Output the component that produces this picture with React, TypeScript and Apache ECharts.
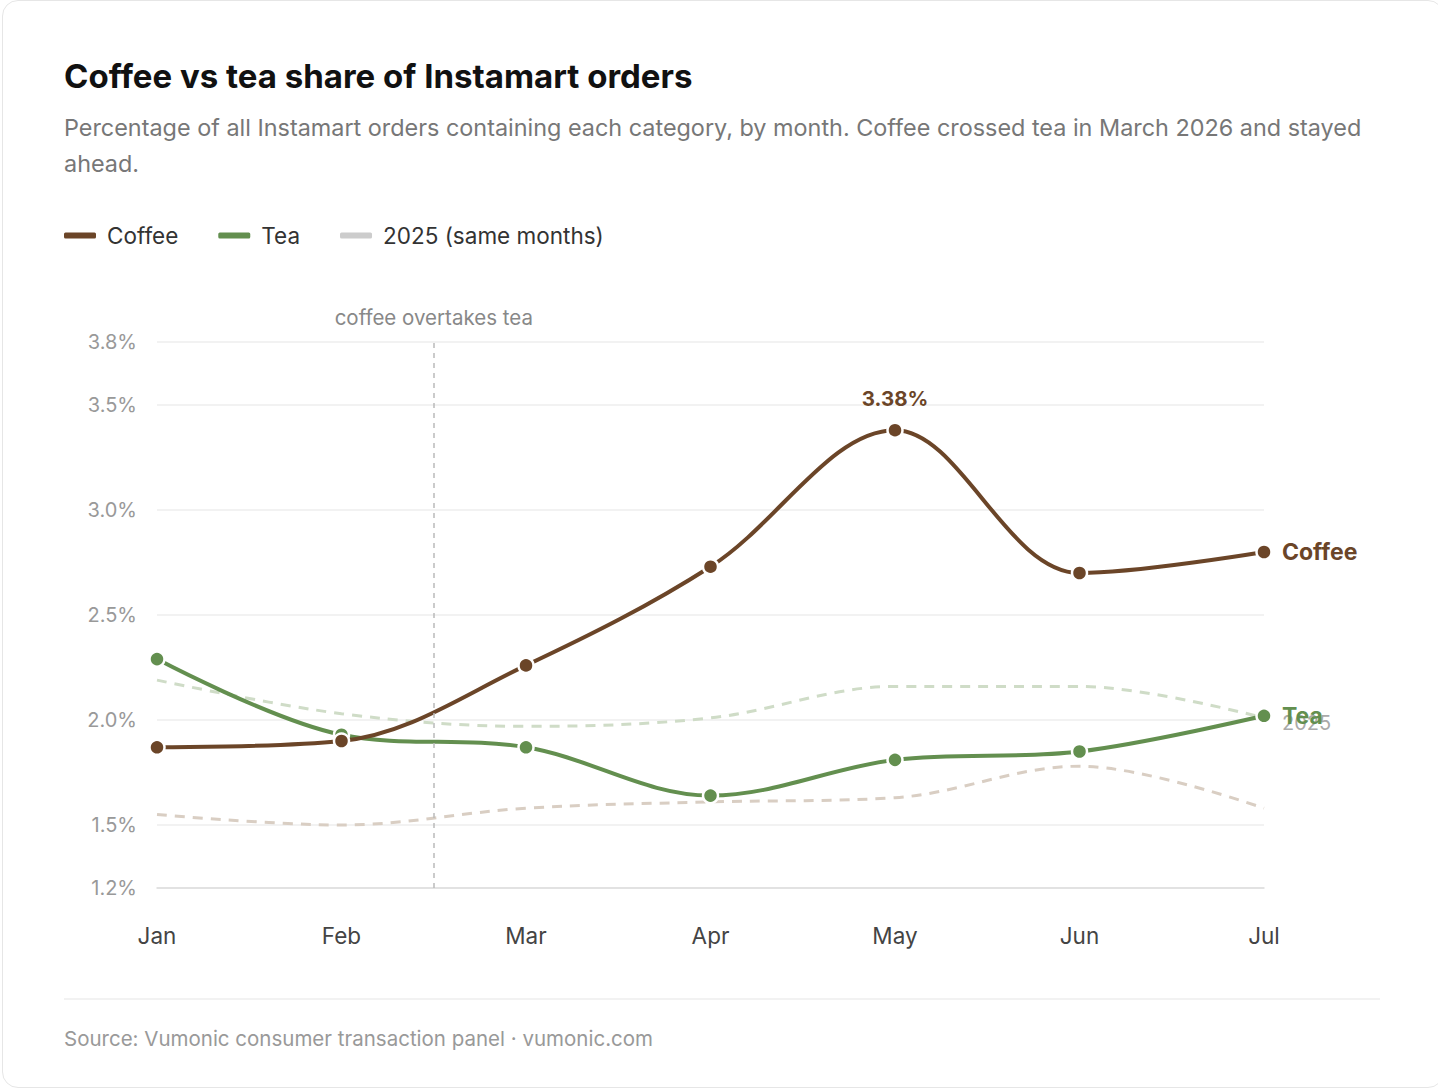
import React, { useEffect, useRef } from "react";
import * as echarts from "echarts";

const months = ["Jan", "Feb", "Mar", "Apr", "May", "Jun", "Jul"];
const coffee2026 = [1.87, 1.9, 2.26, 2.73, 3.38, 2.7, 2.8];
const tea2026 = [2.29, 1.93, 1.87, 1.64, 1.81, 1.85, 2.02];
const coffee2025 = [1.55, 1.5, 1.58, 1.61, 1.63, 1.78, 1.58];
const tea2025 = [2.19, 2.03, 1.97, 2.01, 2.16, 2.16, 2.01];
const yTicks = [1.2, 1.5, 2.0, 2.5, 3.0, 3.5, 3.8];
const crossoverAt = 1.5; // between Feb and Mar
const crossoverLabel = "coffee overtakes tea";

const FONT = "Inter, 'Open Sans', sans-serif";
const COFFEE = "#6b4528";
const TEA = "#638f4f";
const COFFEE_OLD = "#d9cec3";
const TEA_OLD = "#cfdcc7";
const SMOOTH = 0.35;

export default function App() {
  const ref = useRef<HTMLDivElement>(null);

  useEffect(() => {
    if (!ref.current) return;
    const chart = echarts.init(ref.current, undefined, { renderer: "svg" });
    const peak = coffee2026.indexOf(Math.max(...coffee2026));
    const pairs = (arr: number[]) => arr.map((v, i) => [i, v]);

    const option: any = {
      animation: false,
      textStyle: { fontFamily: FONT },
      title: [
        {
          text: "Coffee vs tea share of Instamart orders",
          left: 64,
          top: 59,
          padding: 0,
          textStyle: { fontFamily: FONT, fontSize: 33, fontWeight: 700, color: "#111111" },
        },
        {
          text:
            "Percentage of all Instamart orders containing each category, by month. Coffee crossed tea in March 2026 and stayed\nahead.",
          left: 64,
          top: 109,
          padding: 0,
          textStyle: { fontFamily: FONT, fontSize: 23.4, fontWeight: 400, color: "#777777", lineHeight: 36 },
        },
        {
          text: "Source: Vumonic consumer transaction panel · vumonic.com",
          left: 64,
          top: 1028,
          padding: 0,
          textStyle: { fontFamily: FONT, fontSize: 20.5, fontWeight: 400, color: "#999999" },
        },
      ],
      legend: {
        left: 64,
        top: 224,
        padding: 0,
        icon: "roundRect",
        itemWidth: 32,
        itemHeight: 6,
        itemGap: 40,
        textStyle: { fontFamily: FONT, fontSize: 22.5, color: "#333333", padding: [0, 0, 0, 6] },
        itemStyle: { borderWidth: 0 },
        data: [
          { name: "Coffee", itemStyle: { color: COFFEE } },
          { name: "Tea", itemStyle: { color: TEA } },
          { name: "2025 (same months)", itemStyle: { color: "#cccccc" } },
        ],
      },
      grid: { left: 157, right: 174, top: 342, bottom: 202, containLabel: false },
      xAxis: {
        type: "value",
        min: 0,
        max: months.length - 1,
        interval: 1,
        axisLine: { show: true, lineStyle: { color: "#dddddd", width: 1.5 } },
        axisTick: { show: false },
        splitLine: { show: false },
        axisLabel: {
          margin: 36,
          fontFamily: FONT,
          fontSize: 22.5,
          color: "#444444",
          formatter: (v: number) => months[Math.round(v)] ?? "",
        },
      },
      yAxis: {
        type: "value",
        min: yTicks[0],
        max: yTicks[yTicks.length - 1],
        axisLine: { show: false },
        axisTick: { show: false, customValues: yTicks },
        splitLine: { show: true, lineStyle: { color: "#eeeeee", width: 1.5 } },
        axisLabel: {
          customValues: yTicks,
          margin: 20,
          fontFamily: FONT,
          fontSize: 20,
          color: "#999999",
          formatter: (v: number) => v.toFixed(1) + "%",
        },
      },
      series: [
        {
          name: "2025 (same months)",
          type: "line",
          data: pairs(coffee2025),
          smooth: SMOOTH,
          showSymbol: false,
          symbol: "none",
          lineStyle: { color: COFFEE_OLD, width: 3, type: [10, 8] },
          itemStyle: { color: COFFEE_OLD },
          z: 1,
        },
        {
          name: "2025 (same months)",
          type: "line",
          data: pairs(tea2025),
          smooth: SMOOTH,
          showSymbol: false,
          symbol: "none",
          lineStyle: { color: TEA_OLD, width: 3, type: [10, 8] },
          itemStyle: { color: TEA_OLD },
          endLabel: {
            show: true,
            formatter: "2025",
            fontFamily: FONT,
            fontSize: 20,
            color: "#aaaaaa",
            distance: 18,
            offset: [0, 5],
          },
          z: 1,
        },
        {
          name: "Tea",
          type: "line",
          data: pairs(tea2026),
          smooth: SMOOTH,
          symbol: "circle",
          symbolSize: 15,
          lineStyle: { color: TEA, width: 4 },
          itemStyle: { color: TEA, borderColor: "#ffffff", borderWidth: 2.5 },
          endLabel: {
            show: true,
            formatter: "Tea",
            fontFamily: FONT,
            fontSize: 23,
            fontWeight: 700,
            color: TEA,
            distance: 18,
          },
          z: 3,
        },
        {
          name: "Coffee",
          type: "line",
          data: coffee2026.map((v, i) =>
            i === peak
              ? {
                  value: [i, v],
                  label: {
                    show: true,
                    position: "top",
                    distance: 12,
                    formatter: v.toFixed(2) + "%",
                    fontFamily: FONT,
                    fontSize: 20.5,
                    fontWeight: 700,
                    color: COFFEE,
                  },
                }
              : [i, v]
          ),
          smooth: SMOOTH,
          symbol: "circle",
          symbolSize: 15,
          lineStyle: { color: COFFEE, width: 4 },
          itemStyle: { color: COFFEE, borderColor: "#ffffff", borderWidth: 2.5 },
          endLabel: {
            show: true,
            formatter: "Coffee",
            fontFamily: FONT,
            fontSize: 23,
            fontWeight: 700,
            color: COFFEE,
            distance: 18,
          },
          z: 4,
        },
        {
          name: "annotation",
          type: "line",
          data: [],
          markLine: {
            silent: true,
            symbol: "none",
            lineStyle: { color: "#bbbbbb", width: 1.5, type: [5, 5] },
            label: {
              show: true,
              position: "end",
              formatter: crossoverLabel,
              fontFamily: FONT,
              fontSize: 20.5,
              color: "#888888",
              distance: 14,
            },
            data: [{ xAxis: crossoverAt }],
          },
          z: 0,
        },
      ],
      graphic: [
        {
          type: "line",
          shape: { x1: 64, y1: 999, x2: 1380, y2: 999 },
          style: { stroke: "#eeeeee", lineWidth: 1.5 },
          silent: true,
        },
      ],
    };

    chart.setOption(option);
    return () => chart.dispose();
  }, []);

  return (
    <div style={{ position: "fixed", left: 0, top: 0, width: 1438, height: 1090, background: "#ffffff", overflow: "hidden" }}>
      <div
        style={{
          position: "absolute",
          left: 2,
          top: 0,
          width: 1442,
          height: 1088,
          border: "1.5px solid #e6e6e6",
          borderRadius: 16,
          boxSizing: "border-box",
        }}
      />
      <div ref={ref} style={{ position: "absolute", left: 0, top: 0, width: 1438, height: 1090 }} />
    </div>
  );
}
